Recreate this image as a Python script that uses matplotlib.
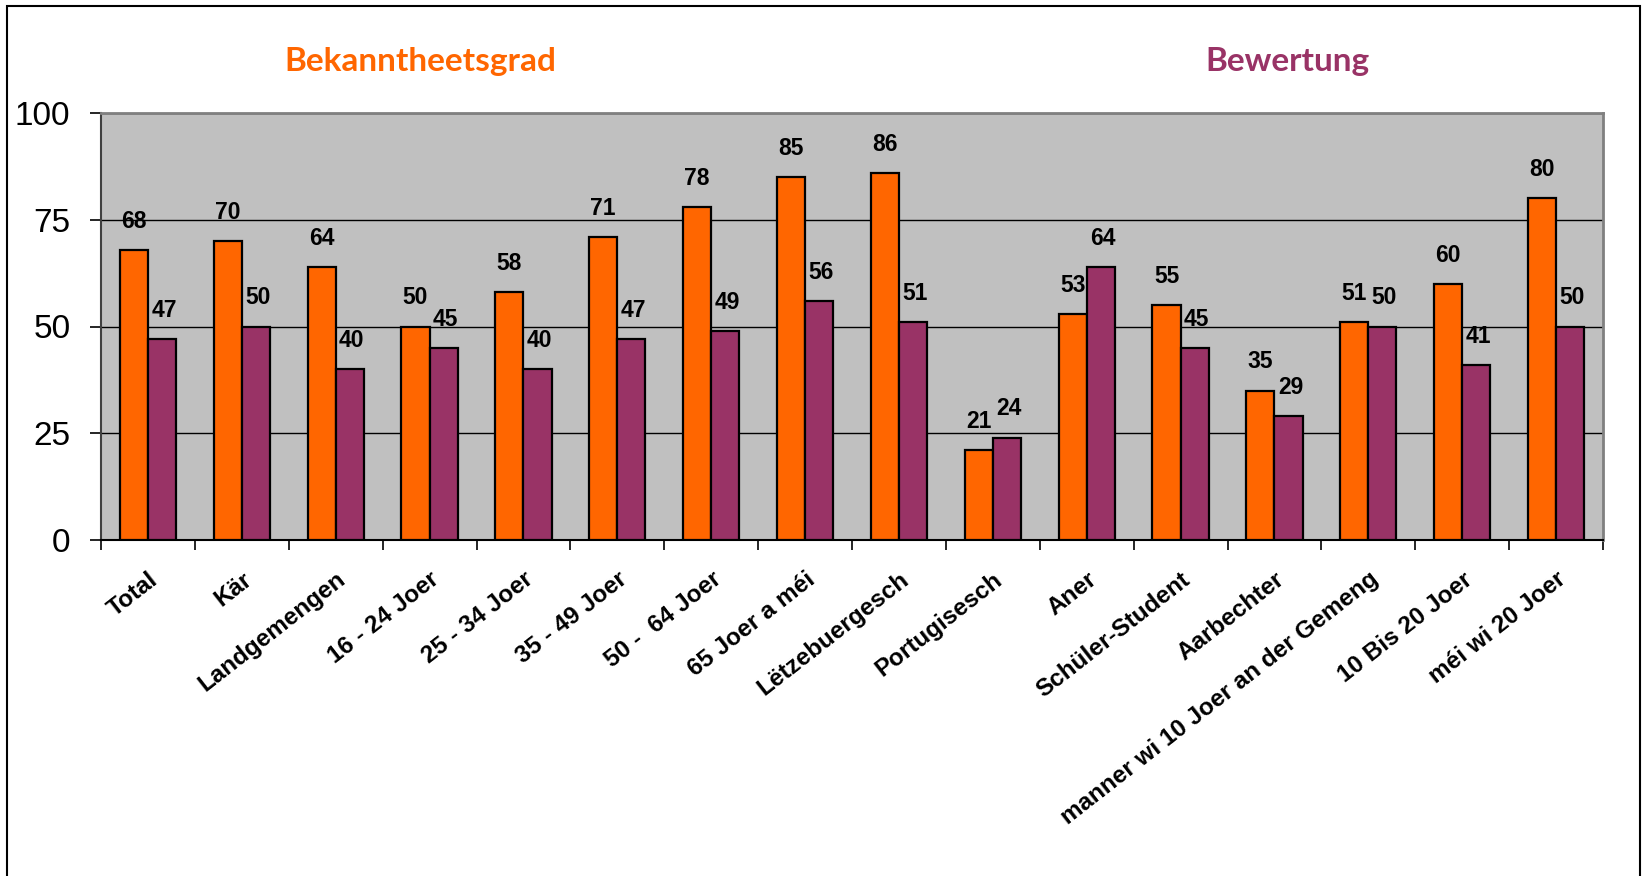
import matplotlib
matplotlib.use("Agg")
import matplotlib.pyplot as plt
from matplotlib.patches import Rectangle
import numpy as np

categories = ["Total", "Kär", "Landgemengen", "16 - 24 Joer", "25 - 34 Joer",
              "35 - 49 Joer", "50 -  64 Joer", "65 Joer a méi", "Lëtzebuergesch",
              "Portugisesch", "Aner", "Schüler-Student", "Aarbechter",
              "manner wi 10 Joer an der Gemeng", "10 Bis 20 Joer", "méi wi 20 Joer"]
bekanntheet = [68, 70, 64, 50, 58, 71, 78, 85, 86, 21, 53, 55, 35, 51, 60, 80]
bewertung = [47, 50, 40, 45, 40, 47, 49, 56, 51, 24, 64, 45, 29, 50, 41, 50]
series_names = ["Bekanntheetsgrad", "Bewertung"]
yticks = [0, 25, 50, 75, 100]

ORANGE = "#FF6600"
PURPLE = "#993366"

W, H = 1646, 876
fig = plt.figure(figsize=(W / 100, H / 100), dpi=100)
plt.rcParams['font.family'] = ['Liberation Sans', 'DejaVu Sans']

L, R, T, B = 101, 1603, 113, 540
ax = fig.add_axes([L / W, 1 - B / H, (R - L) / W, (B - T) / H])
ax.set_facecolor("#C0C0C0")

n = len(categories)
x = np.arange(n)
bw = 0.30
ax.bar(x - bw / 2, bekanntheet, bw, color=ORANGE, edgecolor="black", linewidth=1.6, zorder=3)
ax.bar(x + bw / 2, bewertung, bw, color=PURPLE, edgecolor="black", linewidth=1.6, zorder=3)

for xi, v in zip(x, bekanntheet):
    ax.text(xi - bw / 2, v + 4, str(v), ha="center", va="bottom",
            fontsize=16.5, fontweight="bold", zorder=4)
for xi, v in zip(x, bewertung):
    ax.text(xi + bw / 2 + 0.02, v + 4, str(v), ha="center", va="bottom",
            fontsize=16.5, fontweight="bold", zorder=4)

ax.set_xlim(-0.5, n - 0.5)
ax.set_ylim(0, 100)
ax.set_yticks(yticks)
ax.set_yticklabels([str(t) for t in yticks], fontsize=24)
ax.yaxis.grid(True, color="black", linewidth=1.0, zorder=1)
ax.set_axisbelow(True)
ax.tick_params(axis="y", direction="out", length=8, width=1.2, pad=14)

ax.set_xticks(np.arange(n + 1) - 0.5, minor=True)
ax.set_xticks(x)
ax.set_xticklabels(categories, rotation=38, ha="right", va="top",
                   rotation_mode="anchor", fontsize=17.5, fontweight="bold")
ax.tick_params(axis="x", which="major", length=0, pad=20)
ax.tick_params(axis="x", which="minor", direction="out", length=7, width=1.2)

for s in ["top", "right"]:
    ax.spines[s].set_color("#808080")
    ax.spines[s].set_linewidth(2)
ax.spines["left"].set_color("#404040")
ax.spines["left"].set_linewidth(1.5)
ax.spines["bottom"].set_color("black")
ax.spines["bottom"].set_linewidth(1.5)

fig.text(420 / W, 1 - 62 / H, series_names[0], color=ORANGE, fontsize=24,
         fontweight="bold", ha="center", va="center", family=["Lato", "DejaVu Sans"])
fig.text(1288 / W, 1 - 62 / H, series_names[1], color=PURPLE, fontsize=24,
         fontweight="bold", ha="center", va="center", family=["Lato", "DejaVu Sans"])

frame = Rectangle((7.5 / W, -0.05), (1640 - 7.5) / W, 1.05 - 6 / H,
                  transform=fig.transFigure, fill=False, edgecolor="black",
                  linewidth=1.5, zorder=0)
fig.patches.append(frame)

fig.savefig("out.png", dpi=100)
